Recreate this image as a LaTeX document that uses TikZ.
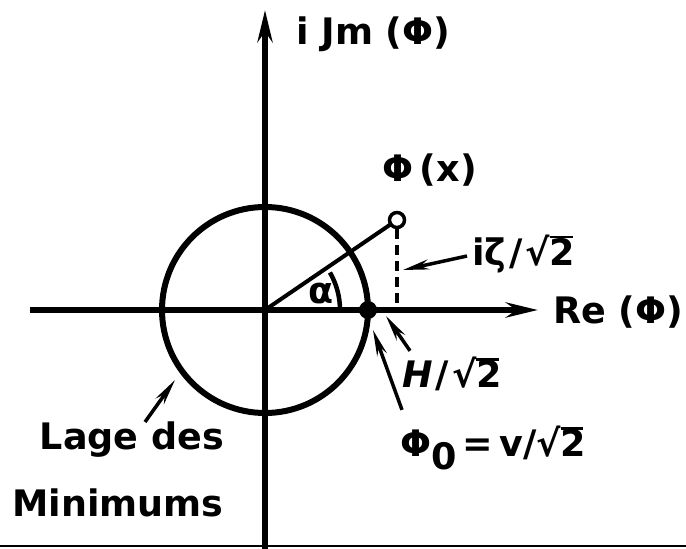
\documentclass[tikz,border=0pt]{standalone}
\usepackage{fontspec}
\setmainfont{DejaVu Sans}
\usetikzlibrary{arrows.meta}
\newcommand\rtwo{√\rlap{\rule[0.74em]{0.62em}{0.08em}}2}
\begin{document}
\begin{tikzpicture}[x=1pt,y=-1pt,
  lbl/.style={font=\fontsize{36.5}{40}\selectfont\bfseries, inner sep=0pt},
  axis/.style={line width=5.5pt, -{Stealth[length=32pt,width=15pt]}},
  ptr/.style={line width=3.5pt, -{Stealth[length=26pt,width=10pt]}}]
\useasboundingbox (0,0) rectangle (686,549);
% coordinates
\coordinate (O) at (265,310);
\coordinate (xl) at (30,310);
\coordinate (xr) at (538,310);
\coordinate (yb) at (265,549);
\coordinate (yt) at (265,10);
\coordinate (P0) at (368,310);
\coordinate (Px) at (397,220);
\coordinate (Pf) at (397,310);
\coordinate (bl) at (0,546);
\coordinate (br) at (686,546);
% axes
\draw[axis] (xl) -- (xr);
\draw[axis] (yb) -- (yt);
\draw[line width=2pt] (bl) -- (br);
% circle
\draw[line width=6pt] (O) circle[radius=103];
% line to phi(x)
\draw[line width=4pt] (O) -- (Px);
\draw[line width=4pt, dash pattern=on 10pt off 6pt] (Px) ++(0,9) -- (Pf);
\node[circle, draw, line width=3.5pt, fill=white, minimum size=15pt, inner sep=0pt] (ox) at (Px) {};
\node[circle, fill=black, minimum size=18pt, inner sep=0pt] (dot) at (P0) {};
% angle arc
\draw[line width=4.5pt] (O) ++(75,0) arc[start angle=0, end angle=-30, radius=75];
\node[lbl] (alpha) at (321,294) {α};
% labels
\node[lbl, anchor=west] (im) at (296,34) {i Jm (Φ)};
\node[lbl] (phix) at (430,170) {Φ\,(x\kern1pt)};
\node[lbl, anchor=west] (zeta) at (472,254) {iζ\kern3pt/\kern3pt\rtwo};
\node[lbl, anchor=west] (re) at (553,312) {Re (Φ)};
\node[lbl, anchor=west] (H) at (402,374) {\textit{H}\kern3pt/\kern3pt\rtwo};
\node[lbl, anchor=west] (phi0) at (400,448) {Φ\raisebox{-0.35em}{0}\,=\,v/\rtwo};
\node[lbl] (lage) at (132,440) {Lage des};
\node[lbl] (mini) at (118,503) {Minimums};
% pointers
\coordinate (zt) at (403,270);
\coordinate (ht) at (386,316);
\coordinate (pt) at (373,330);
\coordinate (lt) at (175,380);
\draw[ptr] ([shift={(-5,2)}]zeta.west) -- (zt);
\draw[ptr] ([shift={(8,-6)}]H.north west) -- (ht);
\draw[ptr] ([shift={(2,-16)}]phi0.north west) -- (pt);
\draw[ptr] ([shift={(13,0)}]lage.north) -- (lt);
\end{tikzpicture}
\end{document}
